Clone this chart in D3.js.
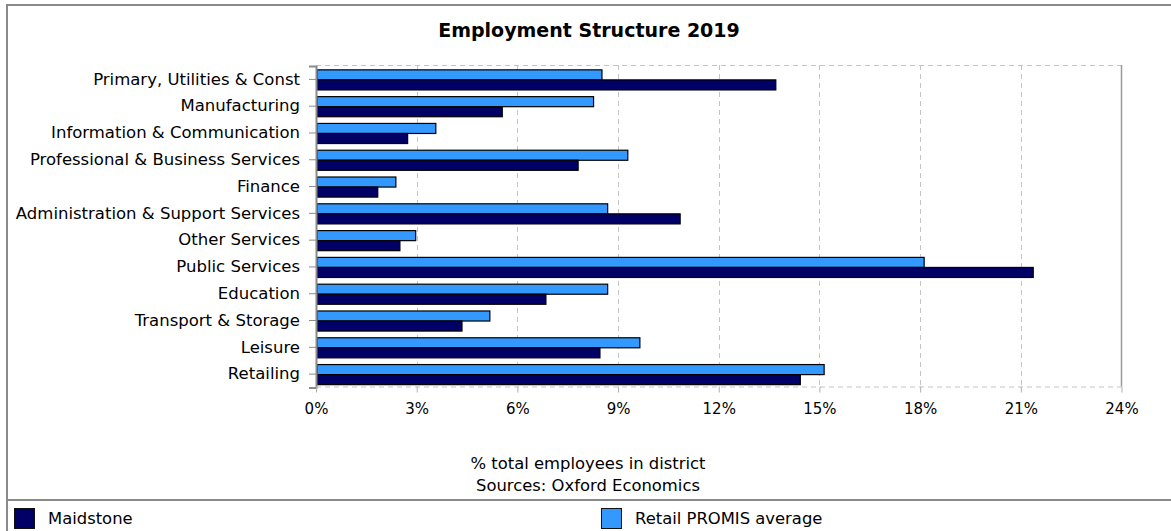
<!DOCTYPE html>
<html>
<head>
<meta charset="utf-8">
<script src="https://cdn.jsdelivr.net/npm/d3@7"></script>
<style>
  html, body { margin: 0; padding: 0; background: #fff; }
  svg { display: block; }
  text { font-family: "DejaVu Sans", sans-serif; fill: #000; }
</style>
</head>
<body>
<svg id="chart" width="1171" height="531"></svg>
<script>
const categories = [
  "Primary, Utilities & Const",
  "Manufacturing",
  "Information & Communication",
  "Professional & Business Services",
  "Finance",
  "Administration & Support Services",
  "Other Services",
  "Public Services",
  "Education",
  "Transport & Storage",
  "Leisure",
  "Retailing"
];
const maidstone = [13.70, 5.55, 2.73, 7.81, 1.84, 10.85, 2.50, 21.37, 6.85, 4.35, 8.46, 14.43];
const retailAvg = [8.52, 8.27, 3.57, 9.29, 2.38, 8.69, 2.97, 18.12, 8.69, 5.18, 9.65, 15.14];
const xTicks = [0, 3, 6, 9, 12, 15, 18, 21, 24];
const seriesNames = ["Maidstone", "Retail PROMIS average"];
const title = "Employment Structure 2019";
const axisTitle = "% total employees in district";
const sourceText = "Sources: Oxford Economics";

const colors = { "Maidstone": "#000066", "Retail PROMIS average": "#3399ff" };

const svg = d3.select("#chart");
const W = 1171, H = 531;
const plot = { left: 316, right: 1121.5, top: 65, bottom: 386.5 };

// outer frame
svg.append("path")
  .attr("d", `M7,${H} L7,5 L${W},5`)
  .attr("fill", "none").attr("stroke", "#8a8a8a").attr("stroke-width", 2);
svg.append("line")
  .attr("x1", 7).attr("x2", W).attr("y1", 500).attr("y2", 500)
  .attr("stroke", "#8a8a8a").attr("stroke-width", 2);

const x = d3.scaleLinear().domain([0, 24]).range([plot.left, plot.right]);
const y = d3.scaleBand().domain(categories).range([plot.top + 1, plot.bottom + 1])
  .paddingInner(0.25).paddingOuter(0.125);
const inner = d3.scaleBand().domain(["Retail PROMIS average", "Maidstone"])
  .range([0, y.bandwidth()]);

// title
svg.append("text")
  .attr("x", 589).attr("y", 37)
  .attr("text-anchor", "middle")
  .style("font-weight", "bold").style("font-size", "19px")
  .text(title);

// grid
const grid = svg.append("g");
grid.selectAll("line.v").data(xTicks.filter(d => d > 0 && d < 24)).join("line")
  .attr("x1", d => Math.round(x(d)) + 0.5).attr("x2", d => Math.round(x(d)) + 0.5)
  .attr("y1", plot.top).attr("y2", plot.bottom)
  .attr("stroke", "#c4c4c4").attr("stroke-dasharray", "5,4");
grid.append("line")
  .attr("x1", plot.left).attr("x2", plot.right)
  .attr("y1", plot.top + 0.5).attr("y2", plot.top + 0.5)
  .attr("stroke", "#c4c4c4").attr("stroke-dasharray", "5,4");
grid.append("line")
  .attr("x1", plot.left).attr("x2", plot.right)
  .attr("y1", plot.bottom + 0.5).attr("y2", plot.bottom + 0.5)
  .attr("stroke", "#c4c4c4").attr("stroke-dasharray", "5,4");
grid.append("line")
  .attr("x1", plot.right).attr("x2", plot.right)
  .attr("y1", plot.top).attr("y2", plot.bottom)
  .attr("stroke", "#9a9a9a").attr("stroke-width", 1.5);

// bars
const rows = categories.map((c, i) => ({ cat: c, vals: [
  { s: "Retail PROMIS average", v: retailAvg[i] },
  { s: "Maidstone", v: maidstone[i] }
]}));
const g = svg.append("g");
g.selectAll("g.row").data(rows).join("g")
  .attr("transform", d => `translate(0,${y(d.cat)})`)
  .selectAll("rect").data(d => d.vals).join("rect")
  .attr("x", x(0) + 1)
  .attr("y", d => inner(d.s) + 0.5)
  .attr("width", d => x(d.v) - x(0) - 1)
  .attr("height", inner.bandwidth())
  .attr("fill", d => colors[d.s])
  .attr("stroke", "#000").attr("stroke-width", 1.2);

// y axis
const yAxis = d3.axisLeft(y).tickSize(7).tickPadding(9);
const ya = svg.append("g").attr("transform", `translate(${plot.left},0)`).call(yAxis);
ya.select(".domain").attr("stroke", "#8a8a8a").attr("stroke-width", 2);
ya.selectAll(".tick line").attr("stroke", "#8a8a8a");
ya.selectAll(".tick text").style("font-size", "16.5px").style("font-family", "DejaVu Sans").attr("fill", "#000");

// x axis
const xAxis = d3.axisBottom(x).tickValues(xTicks).tickFormat(d => d + "%").tickSize(6).tickPadding(11);
const xa = svg.append("g").attr("transform", `translate(0,${plot.bottom})`).call(xAxis);
xa.select(".domain").remove();
xa.selectAll(".tick line").attr("stroke", "#b0b0b0");
xa.selectAll(".tick text").style("font-size", "15px").style("font-family", "DejaVu Sans").attr("fill", "#000");

// axis titles
svg.append("text").attr("x", 588).attr("y", 469).attr("text-anchor", "middle")
  .style("font-size", "16.4px").text(axisTitle);
svg.append("text").attr("x", 588).attr("y", 491).attr("text-anchor", "middle")
  .style("font-size", "16.4px").text(sourceText);

// legend
const legendX = [14, 601];
const lg = svg.append("g").selectAll("g").data(seriesNames).join("g")
  .attr("transform", (d, i) => `translate(${legendX[i]},508)`);
lg.append("rect").attr("x", 0.5).attr("y", 0.5).attr("width", 20).attr("height", 20)
  .attr("fill", d => colors[d]).attr("stroke", "#111");
lg.append("text").attr("x", 34).attr("y", 16).style("font-size", "16.4px").text(d => d);
</script>
</body>
</html>
